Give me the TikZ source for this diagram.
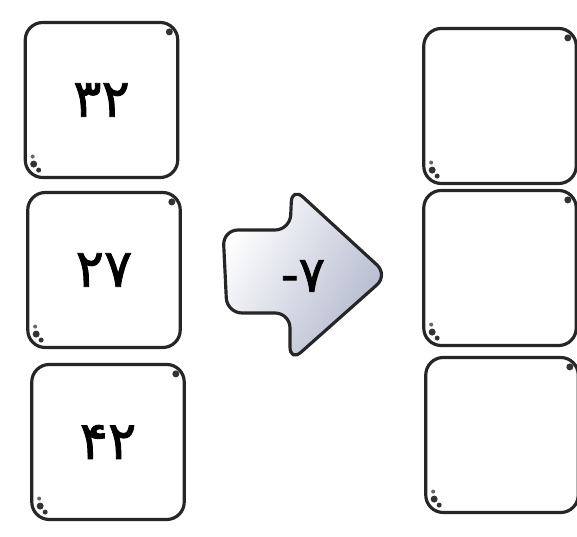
\documentclass[tikz,border=0pt]{standalone}
\usepackage{fontspec}
\newfontfamily\arabicfont[Script=Arabic, FakeBold=1.6]{DejaVu Sans}
\definecolor{arrowshade}{RGB}{176,182,204}
\begin{document}
\begin{tikzpicture}[
    numbox/.style={draw=black!85, line width=1.8pt, rounded corners=0.35cm, fill=white,
        minimum width=3.05cm, minimum height=3.1cm, inner sep=0pt,
        font=\arabicfont\fontsize{30}{34}\selectfont},
    oparrow/.style={draw=black!85, line width=1.8pt, rounded corners=0.3cm,
        left color=white, right color=arrowshade, shading angle=60}
]
    \useasboundingbox (0,0) rectangle (11.54,10.74);

    % Cajas de la izquierda
    \node[numbox] (l1) at (2.03,8.74) {۳۲};
    \node[numbox] (l2) at (2.08,5.34) {۲۷};
    \node[numbox] (l3) at (2.16,1.90) {۴۲};

    % Cajas vacias de la derecha
    \node[numbox] (r1) at (10.00,8.62) {};
    \node[numbox] (r2) at (10.00,5.38) {};
    \node[numbox] (r3) at (10.04,2.04) {};

    % Puntos en las esquinas
    \foreach \b in {l1,l2,l3,r1,r2,r3} {
        \fill[black!80] ([shift={(-0.2,-0.22)}]\b.north east) circle (0.07);
        \fill[black!80] ([shift={(0.2,0.3)}]\b.south west) circle (0.07);
        \fill[black!80] ([shift={(0.3,0.18)}]\b.south west) circle (0.05);
        \fill[black!60] ([shift={(0.18,0.45)}]\b.south west) circle (0.04);
    }

    % Flecha de la operacion
    \draw[oparrow] (4.46,6.14) -- (5.80,6.14) -- (5.84,7.00) -- (7.76,5.24)
        -- (5.80,3.50) -- (5.80,4.48) -- (4.54,4.48) -- cycle;
    \node[font=\arabicfont\fontsize{28}{32}\selectfont] (op) at (6.06,5.22)
        {\hbox{-}\hbox{۷}};

\end{tikzpicture}
\end{document}
